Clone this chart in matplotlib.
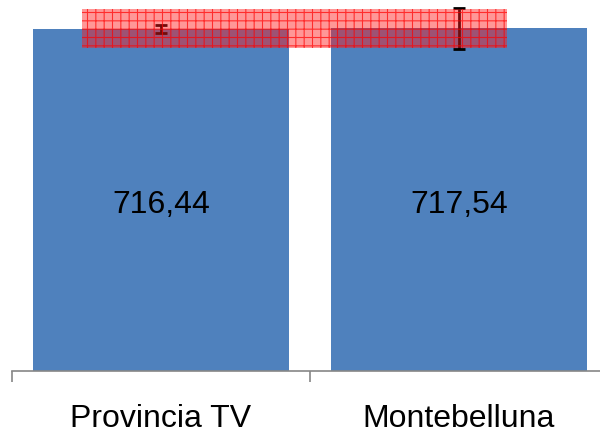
import matplotlib
matplotlib.use("Agg")
import matplotlib.pyplot as plt
from matplotlib.patches import Rectangle

# dati
categorie = ["Provincia TV", "Montebelluna"]
valori = [716.44, 717.54]
errori = [7.7, 42.3]
etichette = ["716,44", "717,54"]
fascia = [676.6, 758.3]   # intervallo evidenziato in rosso

plt.rcParams['font.family'] = ['Liberation Sans', 'DejaVu Sans']
plt.rcParams['hatch.linewidth'] = 0.8

fig = plt.figure(figsize=(6, 4.35), dpi=100)
ax = fig.add_axes([12 / 600, 63 / 435, 596 / 600, 372 / 435])

x = list(range(len(categorie)))
ax.bar(x, valori, width=0.862, color="#4F81BD", zorder=1)
ax.errorbar(x, valori, yerr=errori, fmt="none", ecolor="black",
            elinewidth=2, capsize=4.5, capthick=2, zorder=2, clip_on=False)

# etichette dentro le barre
for xi, v, t in zip(x, valori, etichette):
    ax.text(xi, v * 0.464, t, ha="center", va="baseline", fontsize=23, color="black")

# fascia rossa tratteggiata
band = Rectangle((-0.265, fascia[0]), 1.426, fascia[1] - fascia[0],
                 facecolor=(1, 0.1, 0.1, 0.45), edgecolor=(1, 0, 0, 0.7), linewidth=0,
                 hatch="++", zorder=3)
ax.add_patch(band)

ax.set_xlim(-0.5, 1.5)
ax.set_ylim(0, 779.2)
ax.set_xticks(x)
ax.set_xticklabels(categorie, fontsize=23)
ax.tick_params(axis="x", which="major", length=0, pad=23)
ax.set_xticks([-0.5, 0.5, 1.5], minor=True)
ax.tick_params(axis="x", which="minor", length=8, width=1.2, color="#868686")
ax.set_yticks([])
for s in ["left", "right", "top"]:
    ax.spines[s].set_visible(False)
ax.spines["bottom"].set_color("#868686")
ax.spines["bottom"].set_linewidth(1.2)

fig.savefig("out.png", dpi=100)
